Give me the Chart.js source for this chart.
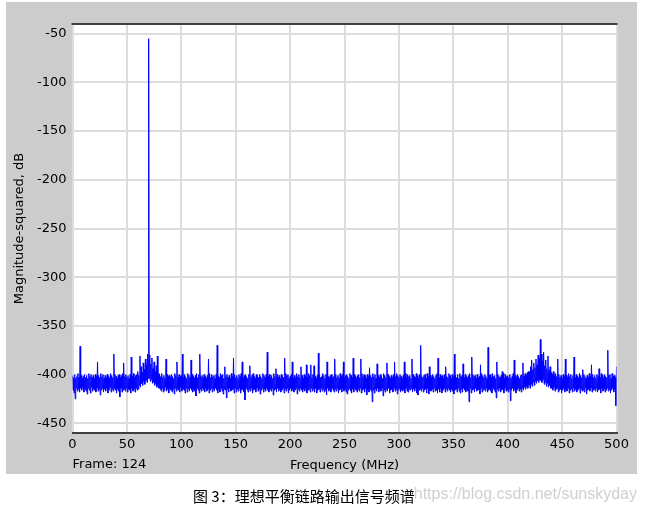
<!DOCTYPE html>
<html><head><meta charset="utf-8">
<script src="https://cdn.jsdelivr.net/npm/chart.js@4"></script>
<style>
html,body{margin:0;padding:0;background:#fff;}
#wrap{position:relative;width:646px;height:511px;overflow:hidden;}
canvas{position:absolute;left:0;top:0;}
#wm{position:absolute;right:9px;top:485px;font:16px "Liberation Sans",Arial,sans-serif;color:#d0d0d0;white-space:nowrap;line-height:18px;}
#cap{position:absolute;left:193px;top:486px;font:15px "Noto Sans CJK SC",sans-serif;color:#000;background:#fff;white-space:nowrap;line-height:20px;}
</style></head>
<body><div id="wrap"><canvas id="c" width="646" height="511"></canvas>
<div id="wm">https://blog.csdn.net/sunskyday</div>
<div id="cap">图 3：理想平衡链路输出信号频谱</div></div>
<script>
const freqStartMHz = 0;
const freqStepMHz = 0.5;
const xTicks = [0,50,100,150,200,250,300,350,400,450,500];
const yTicks = [-50,-100,-150,-200,-250,-300,-350,-400,-450];
const frameLabel = 'Frame: 124';

// magnitude (dB) every 0.5 MHz
const magnitudeDb_000_099 = [
-401,-416,-403,-419,-400,-425,-404,-414,-402,-417,-399,-415,-403,-418,-371,-414,-401,-416,-404,-413,
-402,-418,-400,-415,-403,-417,-401,-420,-404,-414,-399,-416,-402,-419,-400,-413,-403,-417,-401,-415,
-404,-416,-400,-418,-402,-414,-387,-417,-401,-415,-403,-421,-399,-416,-402,-414,-400,-418,-404,-415,
-401,-417,-403,-414,-400,-419,-402,-416,-404,-413,-399,-418,-401,-415,-403,-417,-379,-414,-400,-416,
-402,-419,-404,-415,-401,-417,-400,-423,-403,-414,-401,-418,-399,-416,-388,-415,-402,-417,-400,-414,
-403,-418,-401,-415,-404,-416,-400,-419,-382,-414,-402,-417,-399,-415,-403,-418,-401,-414,-400,-416,
-397,-415,-401,-411,-381,-413,-392,-409,-398,-411,-388,-407,-395,-410,-384,-406,-390,-408,-379,-404,
-55,-404,-380,-407,-389,-405,-383,-409,-394,-408,-387,-411,-397,-409,-391,-413,-381,-411,-399,-414,
-400,-415,-402,-417,-399,-414,-403,-418,-401,-416,-404,-413,-384,-417,-400,-415,-402,-419,-401,-414,
-403,-416,-400,-418,-402,-415,-404,-420,-399,-414,-401,-417,-387,-415,-403,-416,-400,-418,-402,-413];
const magnitudeDb_100_199 = [
-401,-417,-379,-415,-403,-416,-400,-419,-402,-414,-404,-418,-399,-415,-401,-417,-403,-414,-385,-416,
-400,-418,-402,-415,-404,-417,-401,-422,-399,-414,-403,-416,-400,-419,-379,-415,-402,-417,-401,-414,
-403,-416,-400,-418,-402,-414,-404,-417,-401,-415,-384,-419,-399,-416,-403,-414,-400,-418,-402,-415,
-401,-417,-404,-414,-400,-416,-370,-419,-402,-415,-403,-418,-399,-414,-401,-417,-400,-420,-404,-415,
-392,-416,-402,-424,-400,-415,-403,-418,-401,-414,-404,-417,-399,-416,-402,-415,-383,-419,-400,-414,
-403,-418,-401,-415,-404,-417,-400,-414,-402,-419,-399,-416,-387,-415,-403,-418,-401,-426,-400,-414,
-402,-416,-404,-418,-400,-415,-391,-417,-403,-414,-401,-419,-399,-416,-402,-415,-404,-418,-400,-414,
-401,-417,-403,-415,-400,-420,-402,-416,-404,-414,-399,-418,-401,-415,-403,-417,-400,-414,-377,-416,
-402,-418,-400,-415,-403,-417,-401,-414,-404,-421,-399,-416,-402,-415,-394,-418,-400,-414,-403,-417,
-401,-415,-404,-418,-400,-416,-402,-414,-403,-419,-383,-415,-399,-417,-401,-414,-400,-419,-404,-416];
const magnitudeDb_200_299 = [
-402,-414,-400,-417,-387,-415,-403,-418,-401,-416,-404,-414,-399,-420,-402,-415,-400,-417,-403,-414,
-392,-416,-401,-418,-404,-415,-400,-417,-402,-414,-390,-419,-403,-416,-399,-415,-401,-418,-390,-414,
-403,-417,-400,-415,-391,-418,-402,-414,-404,-419,-401,-416,-378,-415,-400,-418,-403,-414,-402,-417,
-399,-415,-401,-418,-404,-416,-400,-421,-387,-414,-402,-417,-403,-415,-401,-418,-400,-414,-404,-416,
-402,-418,-384,-415,-400,-417,-403,-414,-401,-419,-404,-416,-399,-415,-402,-418,-400,-414,-387,-417,
-403,-415,-401,-418,-400,-420,-402,-416,-404,-414,-399,-417,-401,-419,-403,-415,-383,-418,-400,-414,
-402,-416,-404,-418,-401,-415,-400,-417,-403,-414,-384,-419,-399,-416,-402,-415,-400,-418,-401,-414,
-404,-421,-400,-416,-402,-418,-393,-415,-401,-417,-403,-428,-399,-416,-402,-419,-400,-415,-404,-417,
-389,-414,-401,-418,-403,-415,-400,-417,-402,-414,-404,-422,-399,-416,-401,-418,-403,-415,-388,-417,
-400,-414,-402,-419,-404,-416,-401,-415,-403,-418,-400,-414,-387,-417,-402,-415,-399,-420,-401,-416];
const magnitudeDb_300_399 = [
-403,-414,-400,-418,-402,-416,-404,-417,-401,-415,-387,-419,-399,-414,-403,-417,-400,-418,-402,-415,
-401,-416,-404,-414,-384,-418,-400,-415,-402,-417,-403,-414,-399,-419,-401,-421,-404,-416,-400,-415,
-370,-417,-402,-414,-403,-418,-401,-416,-400,-415,-404,-419,-399,-414,-402,-420,-392,-416,-401,-417,
-403,-415,-400,-418,-402,-414,-404,-417,-401,-416,-399,-419,-383,-415,-403,-418,-400,-414,-402,-419,
-401,-416,-404,-414,-400,-418,-392,-415,-402,-417,-403,-414,-399,-416,-401,-418,-404,-415,-400,-417,
-402,-420,-379,-416,-401,-415,-403,-418,-400,-414,-404,-417,-399,-419,-402,-415,-401,-418,-389,-414,
-403,-416,-400,-418,-402,-415,-404,-417,-401,-428,-399,-414,-403,-419,-382,-416,-400,-415,-402,-418,
-401,-414,-404,-417,-400,-416,-403,-415,-402,-420,-390,-414,-399,-418,-401,-416,-403,-415,-400,-417,
-402,-414,-404,-418,-372,-416,-401,-415,-400,-417,-403,-419,-399,-414,-402,-416,-401,-418,-404,-424,
-387,-415,-400,-417,-402,-414,-403,-418,-401,-416,-397,-415,-399,-419,-404,-414,-400,-417,-402,-416];
const magnitudeDb_400_500 = [
-401,-418,-403,-415,-400,-427,-404,-416,-402,-414,-399,-417,-385,-415,-401,-419,-403,-416,-400,-414,
-402,-417,-404,-415,-401,-418,-400,-414,-388,-416,-402,-413,-399,-415,-401,-412,-398,-414,-397,-411,
-397,-414,-392,-410,-385,-412,-395,-408,-388,-411,-393,-407,-384,-409,-390,-406,-380,-408,-383,-405,
-364,-406,-379,-408,-386,-405,-377,-410,-391,-408,-385,-412,-394,-409,-381,-413,-396,-411,-392,-414,
-398,-414,-400,-416,-397,-413,-401,-417,-399,-415,-402,-414,-384,-418,-400,-416,-403,-415,-401,-419,
-404,-416,-400,-414,-402,-418,-384,-415,-401,-417,-403,-414,-399,-419,-402,-416,-400,-415,-404,-418,
-401,-414,-382,-417,-403,-415,-400,-418,-402,-416,-404,-414,-399,-419,-401,-415,-403,-417,-395,-416,
-400,-418,-402,-414,-404,-420,-401,-416,-403,-415,-399,-417,-402,-414,-390,-418,-400,-416,-403,-415,
-401,-417,-404,-414,-400,-418,-402,-416,-394,-415,-403,-419,-399,-414,-401,-417,-404,-415,-400,-418,
-402,-416,-403,-414,-375,-417,-401,-415,-400,-419,-404,-416,-399,-414,-402,-418,-401,-415,-403,-432,
-392];

const magnitudeDb = [].concat(magnitudeDb_000_099, magnitudeDb_100_199, magnitudeDb_200_299, magnitudeDb_300_399, magnitudeDb_400_500);
const points = magnitudeDb.map((v, i) => ({x: freqStartMHz + i * freqStepMHz, y: v}));

const FONT = {family: '"DejaVu Sans", Verdana, sans-serif', size: 13};

const panelPlugin = {
  id: 'panel',
  beforeDraw(chart) {
    const ctx = chart.ctx, a = chart.chartArea;
    ctx.save();
    ctx.fillStyle = '#ffffff';
    ctx.fillRect(0, 0, chart.width, chart.height);
    ctx.fillStyle = '#cccccc';
    ctx.fillRect(6, 2, 631, 472);
    ctx.fillStyle = '#ffffff';
    ctx.fillRect(a.left, a.top, a.right - a.left, a.bottom - a.top);
    ctx.restore();
  },
  afterDraw(chart) {
    const ctx = chart.ctx, a = chart.chartArea;
    ctx.save();
    ctx.strokeStyle = '#404040';
    ctx.lineWidth = 2;
    ctx.beginPath();
    ctx.moveTo(a.left - 1, a.top);
    ctx.lineTo(a.right + 1, a.top);
    ctx.stroke();
    ctx.fillStyle = '#000000';
    ctx.font = '13px "DejaVu Sans", Verdana, sans-serif';
    ctx.textAlign = 'left';
    ctx.textBaseline = 'middle';
    ctx.fillText(frameLabel, a.left, 465);
    ctx.restore();
  }
};

new Chart(document.getElementById('c'), {
  type: 'line',
  data: {
    datasets: [{
      data: points,
      borderColor: '#0000ff',
      borderWidth: 1,
      pointRadius: 0,
      fill: false,
      tension: 0
    }]
  },
  options: {
    responsive: false,
    animation: false,
    events: [],
    layout: {padding: {left: 8, right: 29.5, top: 24, bottom: 37}},
    plugins: {legend: {display: false}, tooltip: {enabled: false}},
    scales: {
      x: {
        type: 'linear', min: 0, max: 500, z: 1,
        afterBuildTicks: s => { s.ticks = xTicks.map(v => ({value: v})); },
        afterFit: s => { s.height = 41; },
        ticks: {font: FONT, color: '#000', padding: 4, maxRotation: 0, autoSkip: false},
        grid: {color: '#dcdcdc', lineWidth: 2, drawTicks: false},
        border: {display: true, color: '#404040', width: 2},
        title: {display: true, text: 'Frequency (MHz)', font: FONT, color: '#000', padding: {top: 0, bottom: 1}}
      },
      y: {
        type: 'linear', min: -460, max: -40, z: 1,
        afterBuildTicks: s => { s.ticks = yTicks.map(v => ({value: v})); },
        afterFit: s => { s.width = 64.5; },
        ticks: {font: FONT, color: '#000', padding: 6, autoSkip: false},
        grid: {color: '#dcdcdc', lineWidth: 2, drawTicks: false},
        border: {display: false},
        title: {display: true, text: 'Magnitude-squared, dB', font: FONT, color: '#000', padding: {top: 4, bottom: 4}}
      }
    }
  },
  plugins: [panelPlugin]
});
</script>
</body></html>
